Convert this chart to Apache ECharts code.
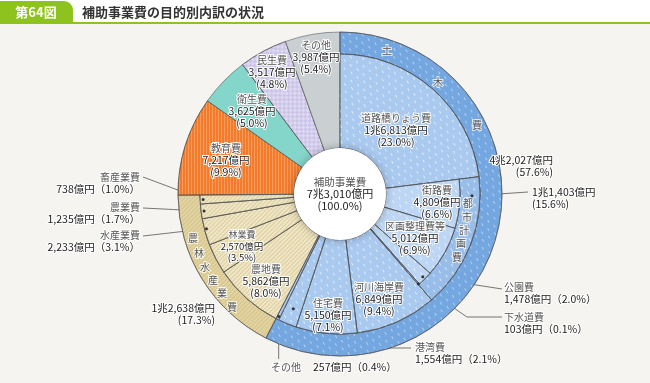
<!DOCTYPE html>
<html><head><meta charset="utf-8">
<script src="https://cdn.jsdelivr.net/npm/echarts@6/dist/echarts.min.js"></script>
<style>html,body{margin:0;padding:0;background:#f5f4f0;}#c{width:650px;height:383px;}</style>
</head><body><div id="c"></div>
<script>
// ---------- data ----------
const leafNames = ['道路橋りょう費','街路費','区画整理費等','公園費','下水道費','河川海岸費','住宅費','港湾費','その他','農地費','林業費','水産業費','農業費','畜産業費','教育費','衛生費','民生費','その他'];
const leafValues = [16813,4809,5012,1478,103,6849,5150,1554,257,5862,2570,2233,1235,738,7217,3625,3517,3987];
const leafPct = ['23.0','6.6','6.9','2.0','0.1','9.4','7.1','2.1','0.4','8.0','3.5','3.1','1.7','1.0','9.9','5.0','4.8','5.4'];
const leafGroup = ['doboku','toshi','toshi','toshi','toshi','doboku','doboku','doboku','doboku','norin','norin','norin','norin','norin','none','none','none','none'];
const groupNames = ['土木費','都市計画費','農林水産業費'];
const groupValues = [42027, 11403, 12638];
const groupPct = ['57.6','15.6','17.3'];
const totalName = '補助事業費';
const totalValue = 73010;
const totalPct = '100.0';
const figNo = '第64図';
const title = '補助事業費の目的別内訳の状況';

// ---------- layout ----------
const CX = 340, CY = 194, R0 = 46, R2 = 120, R1 = 140, R = 162;
const FONT = '"Noto Sans CJK JP", "Noto Sans", sans-serif';

const leafCfg = [
  {x:396, y:130},
  {x:437, y:202},
  {x:415, y:238},
  {x:504, y:293, align:'left', out:true, anchor:[0.5,117], path:[[502,289]]},
  {x:504, y:323, align:'left', out:true, anchor:[0.5,119], path:[[467,317],[502,317]]},
  {x:379, y:299},
  {x:328, y:315},
  {x:415, y:353, align:'left', out:true, anchor:[0.5,124], path:[[null,348],[411,348]]},
  {x:271, y:367, align:'left', out:true, inline:true, anchor:[0.5,137], path:[[null,359]]},
  {x:266, y:281},
  {x:242, y:246, small:true},
  {x:140, y:241, align:'right', out:true, anchor:[0.6,138], path:[[143,236]]},
  {x:140, y:213, align:'right', out:true, anchor:[0.5,137], path:[[143,208]]},
  {x:140, y:183, align:'right', out:true, anchor:[0.5,137], path:[[143,177]]},
  {x:226, y:160},
  {x:252, y:111},
  {x:272, y:72},
  {x:316, y:57}
];
const groupCfg = [
  {x:553, y:166, align:'right'},
  {x:532, y:198, align:'left', out:true, anchor:[0.14,132], path:[[528,192]]},
  {x:215, y:314, align:'right'}
];
const groupCharPos = [
  [[387,50],[438,82],[477,125]],
  [[468,203],[467,217],[464,230],[461,243],[457,257]],
  [[193,238],[199,253],[205,267],[213,280],[222,293],[232,307]]
];

const DASH = {symbol:'rect', symbolSize:1, color:'rgba(255,255,255,0.6)', dashArrayX:[[1,6],[0,3,1,3]], dashArrayY:[3,4], rotation:-0.5};
const DASH2 = Object.assign({}, DASH, {color:'rgba(255,255,255,0.45)'});
const STRIPE = {symbol:'rect', symbolSize:1, color:'rgba(185,160,90,0.35)', dashArrayX:[1,0], dashArrayY:[1,2], rotation:-Math.PI/4};
const VSTRIPE = {symbol:'rect', symbolSize:1, color:'rgba(255,190,140,0.45)', dashArrayX:[1,0], dashArrayY:[1,2], rotation:Math.PI/2};
const CHECK = {symbol:'rect', symbolSize:1, color:'rgba(255,255,255,0.35)', dashArrayX:[[3,3],[0,3,3,0]], dashArrayY:[3,0], rotation:Math.PI/4};

const leafStyleByGroup = {
  doboku: {color:'#a9c9ef', decal:DASH},
  toshi: {color:'#bdd6f3', decal:DASH},
  norin: {color:'#efe6c6', decal:STRIPE}
};
const otherStyles = {14:{color:'#f27c2e', decal:VSTRIPE}, 15:{color:'#84d5ca'}, 16:{color:'#cbc4e8', decal:CHECK}, 17:{color:'#cad0d2'}};
const bandStyles = [{color:'#74a6e0', decal:DASH2}, {color:'#98bde9', decal:DASH}, {color:'#e2d4a2', decal:STRIPE}];

// ---------- helpers ----------
const leafSum = leafValues.reduce((a,b)=>a+b,0);
function pointAt(pos, r){ const a = pos/leafSum*2*Math.PI; return [CX + r*Math.sin(a), CY - r*Math.cos(a)]; }
function commas(n){ return n.toString().replace(/\B(?=(\d{3})+(?!\d))/g, ','); }
function fmtOku(v){ const c = Math.floor(v/10000), r = v%10000; return (c>0 ? c+'兆' + commas(r) : commas(r)) + '億円'; }

const rich = {
  n:{color:'#555', fontSize:10, lineHeight:12, fontFamily:FONT},
  v:{color:'#222', fontSize:10.5, lineHeight:12, fontFamily:FONT},
  ns:{color:'#555', fontSize:9, lineHeight:11, fontFamily:FONT},
  vs:{color:'#222', fontSize:9.5, lineHeight:11, fontFamily:FONT},
  c1:{color:'#555', fontSize:10.5, lineHeight:12, fontFamily:FONT},
  c2:{color:'#222', fontSize:11, lineHeight:12, fontFamily:FONT}
};
const dots = [];

function labelForLeaf(i){
  const c = leafCfg[i], nm = leafNames[i], val = fmtOku(leafValues[i]), p = leafPct[i];
  if (c.inline) return `{n|${nm}}　{v|${val}（${p}%）}`;
  if (c.out) return `{n|${nm}}\n{v|${val}（${p}%）}`;
  if (c.small) return `{ns|${nm}}\n{vs|${val}}\n{vs|(${p}%)}`;
  return `{n|${nm}}\n{v|${val}}\n{v|(${p}%)}`;
}
function labelForGroup(g){ return `{v|${fmtOku(groupValues[g])}}\n{v|(${groupPct[g]}%)}`; }

function linePts(c, start, value){
  if (!c.anchor) return null;
  const a = pointAt(start + c.anchor[0]*value, c.anchor[1]);
  dots.push(a);
  const pts = [a];
  c.path.forEach(p => pts.push([p[0]==null ? a[0] : p[0], p[1]]));
  if (pts.length < 3) pts.splice(1, 0, [(pts[0][0]+pts[1][0])/2, (pts[0][1]+pts[1][1])/2]);
  return pts;
}

// keyOf(i) -> key or null (transparent filler); consecutive equal keys merge
function buildSeries(radius, keyOf, styleOf, labelOf, cfgOf, z){
  const items = []; let acc = 0;
  leafValues.forEach((v,i)=>{
    const k = keyOf(i); const last = items[items.length-1];
    if (last && last.key === k) last.value += v; else items.push({key:k, value:v, start:acc});
    acc += v;
  });
  const layouts = [];
  const data = items.map(it=>{
    if (it.key === null){
      layouts.push(null);
      return {value:it.value, name:'', itemStyle:{color:'rgba(0,0,0,0)', borderWidth:0}, label:{show:false}, labelLine:{show:false}};
    }
    const c = cfgOf(it.key);
    const lp = c ? linePts(c, it.start, it.value) : null;
    layouts.push(c ? {x:c.x, y:c.y, align:c.align||'center', verticalAlign:'middle', labelLinePoints: lp || undefined} : null);
    return {
      value: it.value, name: String(it.key),
      itemStyle: Object.assign({borderColor:'rgba(70,70,70,0.75)', borderWidth:0.7}, styleOf(it.key)),
      label: c ? {show:true, position: c.out ? 'outside' : 'inside', formatter: labelOf(it.key)} : {show:false},
      labelLine: {show: !!(c && c.out), lineStyle:{color:'#555', width:0.8}}
    };
  });
  return {
    type:'pie', center:[CX,CY], radius:radius, startAngle:90, clockwise:true, avoidLabelOverlap:false,
    silent:true, animation:false, z:z, emphasis:{disabled:true},
    label:{show:false, rich:rich, textBorderColor:'#fff', textBorderWidth:2, fontFamily:FONT},
    labelLine:{length:0, length2:0},
    labelLayout: function(p){ const l = layouts[p.dataIndex]; if (!l) return {}; const o = {x:l.x, y:l.y, align:l.align, verticalAlign:l.verticalAlign}; if (l.labelLinePoints) o.labelLinePoints = l.labelLinePoints; return o; },
    data:data
  };
}

const series = [];
// others: full radius
series.push(buildSeries([R0,R], i => leafGroup[i]==='none' ? i : null, i => otherStyles[i], i => labelForLeaf(i), i => leafCfg[i], 2));
// outer bands: 土木 (incl. 都市計画) and 農林水産
series.push(buildSeries([R1,R], i => leafGroup[i]==='norin' ? 2 : (leafGroup[i]==='none' ? null : 0), g => bandStyles[g], g => labelForGroup(g), g => groupCfg[g], 2));
// leaves to R1
series.push(buildSeries([R0,R1], i => (leafGroup[i]==='doboku' || leafGroup[i]==='norin') ? i : null, i => leafStyleByGroup[leafGroup[i]], i => labelForLeaf(i), i => leafCfg[i], 2));
// 都市計画 band
series.push(buildSeries([R2,R1], i => leafGroup[i]==='toshi' ? 1 : null, g => bandStyles[g], g => labelForGroup(g), g => groupCfg[g], 2));
// 都市計画 leaves
series.push(buildSeries([R0,R2], i => leafGroup[i]==='toshi' ? i : null, i => leafStyleByGroup[leafGroup[i]], i => labelForLeaf(i), i => leafCfg[i], 2));
// center
series.push({
  type:'pie', center:[CX,CY], radius:[0,R0], silent:true, animation:false, z:3, emphasis:{disabled:true},
  itemStyle:{color:'#ffffff', shadowBlur:8, shadowColor:'rgba(0,0,0,0.3)'},
  label:{show:true, position:'center', rich:rich, formatter:`{c1|${totalName}}\n{c2|${fmtOku(totalValue)}}\n{c2|(${totalPct}%)}`},
  labelLine:{show:false},
  data:[{value:totalValue, name:totalName}]
});

const graphic = [
  {type:'rect', shape:{x:0,y:0,width:650,height:22}, style:{fill:'#ffffff'}, silent:true},
  {type:'rect', shape:{x:0,y:1,width:73,height:22, r:[0,9,0,0]}, style:{fill:'#8dc21f'}, silent:true},
  {type:'rect', shape:{x:0,y:22,width:650,height:2}, style:{fill:'#8dc21f'}, silent:true},
  {type:'text', x:36, y:12, style:{text:figNo, fill:'#fff', font:'bold 13px '+FONT, align:'center', verticalAlign:'middle'}, silent:true},
  {type:'text', x:82, y:12, style:{text:title, fill:'#333', font:'bold 13px '+FONT, align:'left', verticalAlign:'middle'}, silent:true}
];
groupNames.forEach((g, gi) => {
  g.split('').forEach((ch, k) => {
    const p = groupCharPos[gi][k];
    graphic.push({type:'text', x:p[0], y:p[1], z:10, silent:true, style:{text:ch, fill:'#555', font:'10px '+FONT, align:'center', verticalAlign:'middle', stroke:'rgba(255,255,255,0.8)', lineWidth:2}});
  });
});
dots.forEach(d => graphic.push({type:'circle', shape:{cx:d[0], cy:d[1], r:1.5}, style:{fill:'#333'}, z:10, silent:true}));

const chart = echarts.init(document.getElementById('c'), null, {renderer:'canvas'});
chart.setOption({backgroundColor:'#f5f4f0', animation:false, series:series, graphic:graphic});
</script></body></html>
